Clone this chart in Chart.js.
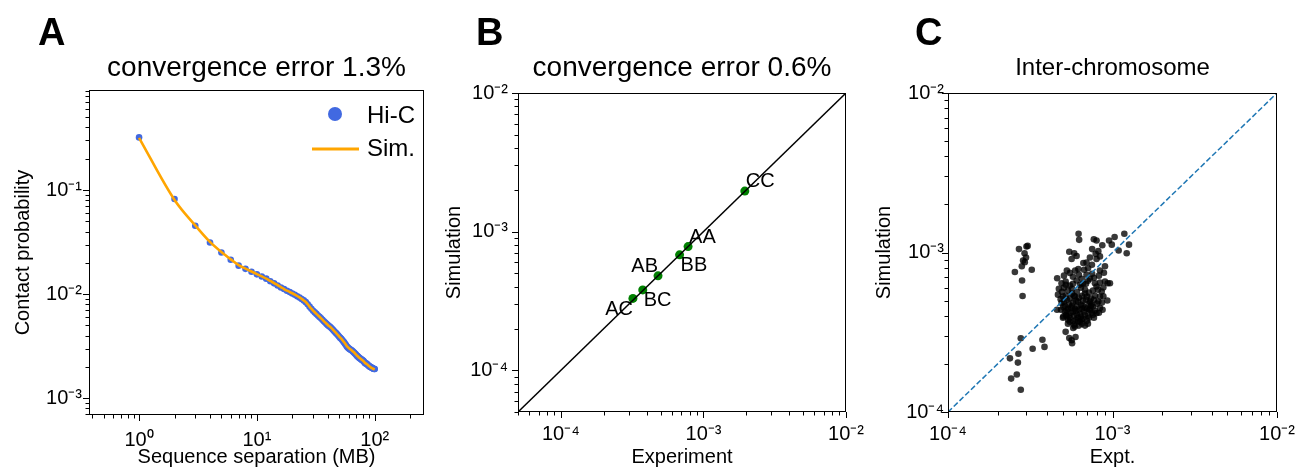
<!DOCTYPE html>
<html>
<head>
<meta charset="utf-8">
<script src="https://cdn.jsdelivr.net/npm/chart.js@4/dist/chart.umd.min.js"></script>
<style>
  html, body { margin: 0; padding: 0; background: #fff; }
  #fig { position: relative; width: 1300px; height: 472px; overflow: hidden; font-family: "Liberation Sans", Arial, sans-serif; }
  #fig canvas { position: absolute; top: 0; }
  .letter { position: absolute; font-weight: bold; font-size: 38px; line-height: 38px; color: #000; }
</style>
</head>
<body>
<div id="fig">
  <canvas id="chartA" width="432" height="472" style="left:0px"></canvas>
  <canvas id="chartB" width="438" height="472" style="left:432px"></canvas>
  <canvas id="chartC" width="430" height="472" style="left:870px"></canvas>
  <div class="letter" style="left:38px;top:13px">A</div>
  <div class="letter" style="left:476px;top:13px">B</div>
  <div class="letter" style="left:915px;top:13px">C</div>
</div>
<script>
// Panel A: contact probability vs sequence separation
const sepMB = [1, 2, 3, 4, 5, 6, 7, 8, 9, 10, 11, 12, 13, 14, 15, 16, 17, 18, 19, 20,
  21, 22, 23, 24, 25, 26, 27, 28, 29, 30, 31, 32, 33, 34, 35, 36, 37, 38, 39, 40,
  41, 42, 43, 44, 45, 46, 47, 48, 49, 50, 51, 52, 53, 54, 55, 56, 57, 58, 59, 60,
  61, 62, 63, 64, 65, 66, 67, 68, 69, 70, 71, 72, 73, 74, 75, 76, 77, 78, 79, 80,
  81, 82, 83, 84, 85, 86, 87, 88, 89, 90, 91, 92, 93, 94, 95, 96, 97, 98, 99, 100];
const hicProb = [0.321, 0.0822, 0.0454, 0.0314, 0.0251, 0.0214, 0.0188, 0.0175, 0.0164, 0.0155,
  0.0148, 0.0141, 0.0133, 0.0127, 0.0121, 0.0116, 0.0112, 0.0108, 0.01047, 0.01016,
  0.00986, 0.00955, 0.00927, 0.00899, 0.00871, 0.00838, 0.00798, 0.00759, 0.00724, 0.00692,
  0.00668, 0.00646, 0.00624, 0.00605, 0.00586, 0.00568, 0.0055, 0.00533, 0.00518, 0.00504,
  0.00493, 0.00483, 0.00471, 0.00457, 0.00445, 0.00433, 0.00422, 0.00411, 0.004, 0.00389,
  0.0038, 0.00372, 0.00363, 0.00353, 0.00344, 0.00334, 0.00324, 0.00314, 0.00308, 0.00302,
  0.00298, 0.00294, 0.00291, 0.00287, 0.00282, 0.00278, 0.00274, 0.00269, 0.00264, 0.00259,
  0.00255, 0.00251, 0.00247, 0.00244, 0.00241, 0.00239, 0.00236, 0.00233, 0.00231, 0.00229,
  0.00225, 0.0022, 0.00217, 0.00216, 0.00215, 0.00213, 0.0021, 0.00207, 0.00205, 0.00203,
  0.00201, 0.002, 0.00198, 0.00197, 0.00195, 0.00194, 0.00193, 0.00192, 0.00191, 0.00191];
const simProb = [0.318, 0.0805, 0.0458, 0.0318, 0.0254, 0.0216, 0.019, 0.0176, 0.0165, 0.0156,
  0.0148, 0.0141, 0.0134, 0.0128, 0.0122, 0.0117, 0.0112, 0.0108, 0.0105, 0.0102,
  0.0099, 0.0096, 0.0093, 0.009, 0.0087, 0.0084, 0.008, 0.0076, 0.00725, 0.00695,
  0.0067, 0.00647, 0.00626, 0.00606, 0.00587, 0.00569, 0.00551, 0.00535, 0.0052, 0.00506,
  0.00494, 0.00483, 0.00472, 0.00459, 0.00446, 0.00434, 0.00423, 0.00412, 0.00401, 0.00391,
  0.00382, 0.00373, 0.00364, 0.00354, 0.00345, 0.00336, 0.00327, 0.00317, 0.00311, 0.00305,
  0.003, 0.00296, 0.00292, 0.00288, 0.00283, 0.00279, 0.00275, 0.0027, 0.00265, 0.0026,
  0.00256, 0.00252, 0.00248, 0.00245, 0.00242, 0.00239, 0.00236, 0.00234, 0.00231, 0.00228,
  0.00225, 0.00221, 0.00218, 0.00216, 0.00214, 0.00212, 0.0021, 0.00207, 0.00205, 0.00203,
  0.00201, 0.00199, 0.00197, 0.00196, 0.00194, 0.00193, 0.00192, 0.00191, 0.0019, 0.00189];
const aXLimits = [0.376, 262];
const aYLimits = [6.9e-4, 0.916];
const aXTickVals = [1, 10, 100];
const aXTickText = ['10⁰', '10¹', '10²'];
const aYTickVals = [1e-3, 1e-2, 1e-1];
const aYTickText = ['10⁻³', '10⁻²', '10⁻¹'];

// Panel B: compartment pair contacts
const pairNames = ['AA', 'AB', 'AC', 'BB', 'BC', 'CC'];
const pairExpt = [7.8e-4, 4.8e-4, 3.2e-4, 6.8e-4, 3.75e-4, 1.95e-3];
const pairSim = [7.8e-4, 4.8e-4, 3.3e-4, 6.8e-4, 3.8e-4, 1.96e-3];
const bLimits = [5e-5, 1e-2];
const bTickVals = [1e-4, 1e-3, 1e-2];
const bTickText = ['10⁻⁴', '10⁻³', '10⁻²'];

// Panel C: inter-chromosome contacts
const interExpt = [
  2.70e-4, 3.05e-4, 3.00e-4, 2.92e-4, 2.98e-4, 2.86e-4, 2.93e-4, 2.81e-4, 2.55e-4, 3.23e-4, 2.82e-4, 2.84e-4,
  2.77e-4, 3.27e-4, 3.75e-4, 3.86e-4, 2.68e-4, 2.38e-4, 2.66e-4, 2.62e-4, 2.42e-4, 2.77e-4,
  6.22e-4, 6.27e-4, 7.70e-4, 8.0e-4, 9.53e-4, 1.03e-3, 1.18e-3, 1.26e-3, 1.22e-3, 1.09e-3,
  9.9e-4, 8.67e-4, 8.2e-4, 7.52e-4, 7.9e-4, 5.46e-4, 5.85e-4, 6.05e-4, 5.64e-4, 7.29e-4,
  6.95e-4, 6.65e-4, 8.0e-4, 8.39e-4, 7.5e-4, 7.1e-4, 5.28e-4, 5.51e-4, 5.93e-4, 6.2e-4,
  6.72e-4, 7.52e-4, 8.39e-4, 9.0e-4, 9.65e-4, 4.61e-4, 4.9e-4, 5.19e-4, 5.51e-4, 6.05e-4,
  6.5e-4, 6.95e-4, 7.29e-4, 7.82e-4, 8.0e-4, 8.6e-4, 8.8e-4, 9.3e-4, 8.2e-4, 7.45e-4,
  8.39e-4, 8.7e-4, 7.2e-4, 8.0e-4, 4.84e-4, 4.9e-4, 5.02e-4, 5.14e-4, 5.26e-4, 5.38e-4,
  5.77e-4, 6.2e-4, 6.5e-4, 5.91e-4, 5.77e-4, 5.19e-4, 5.46e-4, 5.96e-4, 5.68e-4, 5.64e-4,
  9.0e-4, 9.35e-4, 8.8e-4, 4.6e-4, 5.02e-4,
  5.07e-4, 5.36e-4, 5.67e-4, 6.08e-4, 6.43e-4, 6.80e-4, 7.19e-4, 7.61e-4, 5.21e-4, 5.51e-4,
  5.83e-4, 6.25e-4, 6.61e-4, 7.0e-4, 7.40e-4, 7.82e-4, 5.07e-4, 5.43e-4, 5.75e-4, 6.08e-4,
  6.43e-4, 6.80e-4, 7.19e-4, 7.61e-4, 5.28e-4, 5.59e-4, 5.99e-4, 6.34e-4, 6.71e-4, 7.09e-4,
  7.50e-4, 5.51e-4, 5.83e-4, 6.17e-4, 6.61e-4, 7.0e-4, 4.93e-4, 6.34e-4, 6.90e-4, 8.16e-4,
  5.21e-4, 5.75e-4, 5.99e-4, 6.52e-4, 7.29e-4, 7.71e-4, 5.36e-4, 6.25e-4, 6.80e-4, 5.59e-4,
  5.0e-4, 5.28e-4, 5.67e-4, 5.91e-4, 6.17e-4, 6.52e-4, 6.90e-4, 7.29e-4, 7.71e-4, 8.05e-4,
  5.14e-4, 5.36e-4, 5.67e-4, 5.91e-4, 6.25e-4, 6.61e-4, 7.0e-4, 7.40e-4, 7.82e-4, 8.27e-4,
  5.21e-4, 5.43e-4, 5.75e-4, 6.08e-4, 6.43e-4, 6.80e-4, 7.19e-4, 7.61e-4, 5.99e-4, 6.34e-4,
  5.51e-4, 5.83e-4, 6.52e-4, 7.09e-4, 5.0e-4, 4.86e-4, 4.66e-4, 8.39e-4, 8.63e-4, 6.80e-4,
  5.75e-4, 6.25e-4, 5.07e-4, 7.09e-4, 7.71e-4, 8.27e-4, 8.87e-4, 4.72e-4, 8.39e-4, 6.61e-4];
const interSim = [
  1.05e-3, 1.10e-3, 1.09e-3, 9.9e-4, 9.3e-4, 8.9e-4, 8.7e-4, 8.2e-4, 7.55e-4, 7.8e-4, 6.68e-4, 5.34e-4,
  2.9e-4, 2.49e-4, 2.84e-4, 2.56e-4, 2.32e-4, 2.17e-4, 2.04e-4, 1.72e-4, 1.62e-4, 1.38e-4,
  1.31e-3, 1.20e-3, 1.21e-3, 1.19e-3, 1.19e-3, 1.25e-3, 1.31e-3, 1.12e-3, 9.9e-4, 1.03e-3,
  1.12e-3, 1.11e-3, 1.02e-3, 1.05e-3, 9.8e-4, 1.01e-3, 9.9e-4, 9.5e-4, 9.1e-4, 9.3e-4,
  8.65e-4, 8.6e-4, 9.1e-4, 9.45e-4, 8.38e-4, 7.97e-4, 7.7e-4, 7.45e-4, 7.7e-4, 7.87e-4,
  7.8e-4, 7.35e-4, 7.72e-4, 6.58e-4, 6.42e-4, 6.9e-4, 6.42e-4, 6.58e-4, 6.2e-4, 6.67e-4,
  6.85e-4, 7.26e-4, 6.85e-4, 6.42e-4, 6.12e-4, 5.69e-4, 5.31e-4, 5.0e-4, 4.93e-4, 4.71e-4,
  4.49e-4, 4.38e-4, 4.38e-4, 4.17e-4, 5.1e-4, 4.83e-4, 4.55e-4, 4.27e-4, 3.97e-4, 3.79e-4,
  3.7e-4, 3.7e-4, 3.79e-4, 3.44e-4, 3.36e-4, 3.18e-4, 2.91e-4, 2.95e-4, 2.7e-4, 2.82e-4,
  8.2e-4, 6.42e-4, 6.03e-4, 4.38e-4, 3.97e-4,
  6.02e-4, 5.77e-4, 5.93e-4, 5.68e-4, 6.02e-4, 5.85e-4, 5.60e-4, 5.77e-4, 5.36e-4, 5.14e-4,
  5.36e-4, 5.21e-4, 4.99e-4, 5.29e-4, 5.14e-4, 5.36e-4, 4.92e-4, 4.71e-4, 4.85e-4, 4.58e-4,
  4.71e-4, 4.51e-4, 4.78e-4, 4.58e-4, 4.32e-4, 4.19e-4, 4.32e-4, 4.13e-4, 4.26e-4, 4.01e-4,
  4.19e-4, 3.90e-4, 4.01e-4, 3.90e-4, 3.84e-4, 3.73e-4, 5.68e-4, 6.28e-4, 6.37e-4, 5.85e-4,
  6.28e-4, 6.37e-4, 4.99e-4, 4.44e-4, 4.38e-4, 3.90e-4, 3.58e-4, 3.48e-4, 3.48e-4, 4.51e-4,
  5.29e-4, 5.06e-4, 5.52e-4, 5.29e-4, 4.92e-4, 5.36e-4, 5.06e-4, 4.92e-4, 5.06e-4, 4.78e-4,
  4.64e-4, 4.44e-4, 4.64e-4, 4.44e-4, 4.38e-4, 4.64e-4, 4.44e-4, 4.64e-4, 4.32e-4, 4.19e-4,
  4.07e-4, 4.01e-4, 4.26e-4, 4.07e-4, 3.96e-4, 4.07e-4, 3.90e-4, 4.07e-4, 3.79e-4, 3.68e-4,
  3.68e-4, 3.53e-4, 3.58e-4, 3.58e-4, 3.90e-4, 4.38e-4, 5.44e-4, 5.29e-4, 4.85e-4, 5.52e-4,
  7.05e-4, 7.26e-4, 7.16e-4, 6.65e-4, 6.95e-4, 7.16e-4, 7.47e-4, 5.93e-4, 6.47e-4, 6.37e-4];
const cLimits = [1e-4, 1e-2];
const cTickVals = [1e-4, 1e-3, 1e-2];
const cTickText = ['10⁻⁴', '10⁻³', '10⁻²'];

const FONT = '"Liberation Sans", Arial, sans-serif';
Chart.defaults.font.family = FONT;
Chart.defaults.color = '#000';
Chart.defaults.animation = false;

function isDecade(v) {
  const l = Math.log10(v);
  return Math.abs(l - Math.round(l)) < 1e-6;
}

// 1..9 x 10^e positions inside [min, max], for the tick marks
function logSteps(min, max) {
  const out = [];
  for (let e = Math.floor(Math.log10(min)); e <= Math.ceil(Math.log10(max)); e++) {
    for (let k = 1; k < 10; k++) {
      const v = k * Math.pow(10, e);
      if (v >= min * 0.9999 && v <= max * 1.0001) out.push(v);
    }
  }
  return out;
}

function logAxis(o) {
  return {
    type: 'logarithmic',
    position: o.position,
    min: o.limits[0],
    max: o.limits[1],
    grid: { display: false, drawTicks: false },
    border: { display: false },
    afterBuildTicks: s => { s.ticks = o.tickVals.map(v => ({ value: v })); },
    ticks: {
      autoSkip: false,
      maxRotation: 0,
      padding: o.tickPad,
      font: { size: 20 },
      color: '#000',
      callback: v => {
        const i = o.tickVals.indexOf(v);
        return i >= 0 ? o.tickText[i] : '';
      }
    },
    title: { display: true, text: o.title, color: '#000', font: { size: 20, lineHeight: 1.2 }, padding: o.titlePad },
    afterFit: s => {
      if (o.position === 'bottom') s.height = o.size; else s.width = o.size;
      s.paddingLeft = 0; s.paddingRight = 0; s.paddingTop = 0; s.paddingBottom = 0;
    }
  };
}

// box around the plot plus outward major/minor tick marks
const axesFrame = {
  id: 'axesFrame',
  afterDatasetsDraw(chart) {
    const { ctx, chartArea: a, scales: { x, y } } = chart;
    ctx.save();
    ctx.strokeStyle = '#000';
    ctx.lineWidth = 1;
    ctx.beginPath();
    for (const v of logSteps(x.min, x.max)) {
      const p = Math.round(x.getPixelForValue(v)) + 0.5;
      ctx.moveTo(p, a.bottom);
      ctx.lineTo(p, a.bottom + (isDecade(v) ? 6 : 3.5));
    }
    for (const v of logSteps(y.min, y.max)) {
      const p = Math.round(y.getPixelForValue(v)) + 0.5;
      ctx.moveTo(a.left, p);
      ctx.lineTo(a.left - (isDecade(v) ? 6 : 3.5), p);
    }
    ctx.stroke();
    ctx.strokeRect(a.left + 0.5, a.top + 0.5, a.right - a.left - 1, a.bottom - a.top - 1);
    ctx.restore();
  }
};

// legend for panel A, drawn inside the top right corner
const sepLegend = {
  id: 'sepLegend',
  afterDraw(chart) {
    const { ctx, chartArea: a } = chart;
    const [sim, hic] = chart.data.datasets;
    ctx.save();
    ctx.fillStyle = hic.backgroundColor;
    ctx.beginPath();
    ctx.arc(a.right - 89, a.top + 24, 7, 0, Math.PI * 2);
    ctx.fill();
    ctx.strokeStyle = sim.borderColor;
    ctx.lineWidth = 3;
    ctx.beginPath();
    ctx.moveTo(a.right - 112, a.top + 59);
    ctx.lineTo(a.right - 65, a.top + 59);
    ctx.stroke();
    ctx.fillStyle = '#000';
    ctx.font = '24px ' + FONT;
    ctx.textBaseline = 'alphabetic';
    ctx.fillText(hic.label, a.right - 57, a.top + 32.5);
    ctx.fillText(sim.label, a.right - 57, a.top + 65.5);
    ctx.restore();
  }
};

// where each pair name sits next to its point: [side, above/below]
const pairLabelPlace = { AA: ['left', 'above'], AB: ['right', 'above'], AC: ['right', 'below'],
  BB: ['left', 'below'], BC: ['left', 'below'], CC: ['left', 'above'] };

const pairLabels = {
  id: 'pairLabels',
  afterDatasetsDraw(chart) {
    const { ctx } = chart;
    const meta = chart.getDatasetMeta(1);
    ctx.save();
    ctx.fillStyle = '#000';
    ctx.font = '20px ' + FONT;
    ctx.textBaseline = 'alphabetic';
    meta.data.forEach((pt, i) => {
      const [side, vert] = pairLabelPlace[pairNames[i]];
      ctx.textAlign = side === 'left' ? 'left' : 'right';
      const tx = side === 'left' ? pt.x + 1 : pt.x;
      const ty = vert === 'above' ? pt.y - 4 : pt.y + 16.5;
      ctx.fillText(pairNames[i], tx, ty);
    });
    ctx.restore();
  }
};

function titleOpts(text, size, padTop, padBottom) {
  return {
    display: true, text: text, fullSize: false, color: '#000',
    font: { size: size, weight: 'normal', lineHeight: 1.2 },
    padding: { top: padTop, bottom: padBottom }
  };
}

new Chart(document.getElementById('chartA'), {
  type: 'scatter',
  data: {
    datasets: [
      {
        label: 'Sim.',
        data: sepMB.map((x, i) => ({ x: x, y: simProb[i] })),
        showLine: true,
        borderColor: '#FFA500',
        borderWidth: 2.6,
        pointRadius: 0,
        cubicInterpolationMode: 'monotone'
      },
      {
        label: 'Hi-C',
        data: sepMB.map((x, i) => ({ x: x, y: hicProb[i] })),
        backgroundColor: '#4169E1',
        borderWidth: 0,
        pointRadius: 3.3
      }
    ]
  },
  options: {
    responsive: false,
    events: [],
    layout: { padding: { left: 0, right: 8, top: 0, bottom: 0 } },
    scales: {
      x: logAxis({ position: 'bottom', limits: aXLimits, tickVals: aXTickVals, tickText: aXTickText,
        tickPad: 13, title: 'Sequence separation (MB)', titlePad: { top: 0, bottom: 2.5 }, size: 57 }),
      y: logAxis({ position: 'left', limits: aYLimits, tickVals: aYTickVals, tickText: aYTickText,
        tickPad: 7, title: 'Contact probability', titlePad: { top: 11, bottom: 0 }, size: 89 })
    },
    plugins: {
      legend: { display: false },
      tooltip: { enabled: false },
      title: titleOpts('convergence error 1.3%', 28, 51, 5.4)
    }
  },
  plugins: [axesFrame, sepLegend]
});

new Chart(document.getElementById('chartB'), {
  type: 'scatter',
  data: {
    datasets: [
      {
        label: 'y = x',
        data: bLimits.map(v => ({ x: v, y: v })),
        showLine: true,
        borderColor: '#000',
        borderWidth: 1.5,
        pointRadius: 0
      },
      {
        label: 'pairs',
        data: pairNames.map((n, i) => ({ x: pairExpt[i], y: pairSim[i] })),
        backgroundColor: '#008000',
        borderWidth: 0,
        pointRadius: 4.5
      }
    ]
  },
  options: {
    responsive: false,
    events: [],
    layout: { padding: { left: 0, right: 24, top: 0, bottom: 0 } },
    scales: {
      x: logAxis({ position: 'bottom', limits: bLimits, tickVals: bTickVals, tickText: bTickText,
        tickPad: 10, title: 'Experiment', titlePad: { top: 0, bottom: 2.5 }, size: 60 }),
      y: logAxis({ position: 'left', limits: bLimits, tickVals: bTickVals, tickText: bTickText,
        tickPad: 10, title: 'Simulation', titlePad: { top: 10, bottom: 0 }, size: 86 })
    },
    plugins: {
      legend: { display: false },
      tooltip: { enabled: false },
      title: titleOpts('convergence error 0.6%', 28, 51.5, 7.9)
    }
  },
  plugins: [axesFrame, pairLabels]
});

new Chart(document.getElementById('chartC'), {
  type: 'scatter',
  data: {
    datasets: [
      {
        label: 'y = x',
        data: cLimits.map(v => ({ x: v, y: v })),
        showLine: true,
        borderColor: '#1f77b4',
        borderWidth: 1.5,
        borderDash: [5.5, 2.5],
        pointRadius: 0
      },
      {
        label: 'Inter-chromosome',
        data: interExpt.map((x, i) => ({ x: x, y: interSim[i] })),
        backgroundColor: 'rgba(0, 0, 0, 0.78)',
        borderWidth: 0,
        pointRadius: 3.3
      }
    ]
  },
  options: {
    responsive: false,
    events: [],
    layout: { padding: { left: 0, right: 23, top: 0, bottom: 0 } },
    scales: {
      x: logAxis({ position: 'bottom', limits: cLimits, tickVals: cTickVals, tickText: cTickText,
        tickPad: 10, title: 'Expt.', titlePad: { top: 0, bottom: 2.5 }, size: 60 }),
      y: logAxis({ position: 'left', limits: cLimits, tickVals: cTickVals, tickText: cTickText,
        tickPad: 4, title: 'Simulation', titlePad: { top: 2, bottom: 0 }, size: 78 })
    },
    plugins: {
      legend: { display: false },
      tooltip: { enabled: false },
      title: titleOpts('Inter-chromosome', 24, 54.2, 10)
    }
  },
  plugins: [axesFrame]
});
</script>
</body>
</html>
